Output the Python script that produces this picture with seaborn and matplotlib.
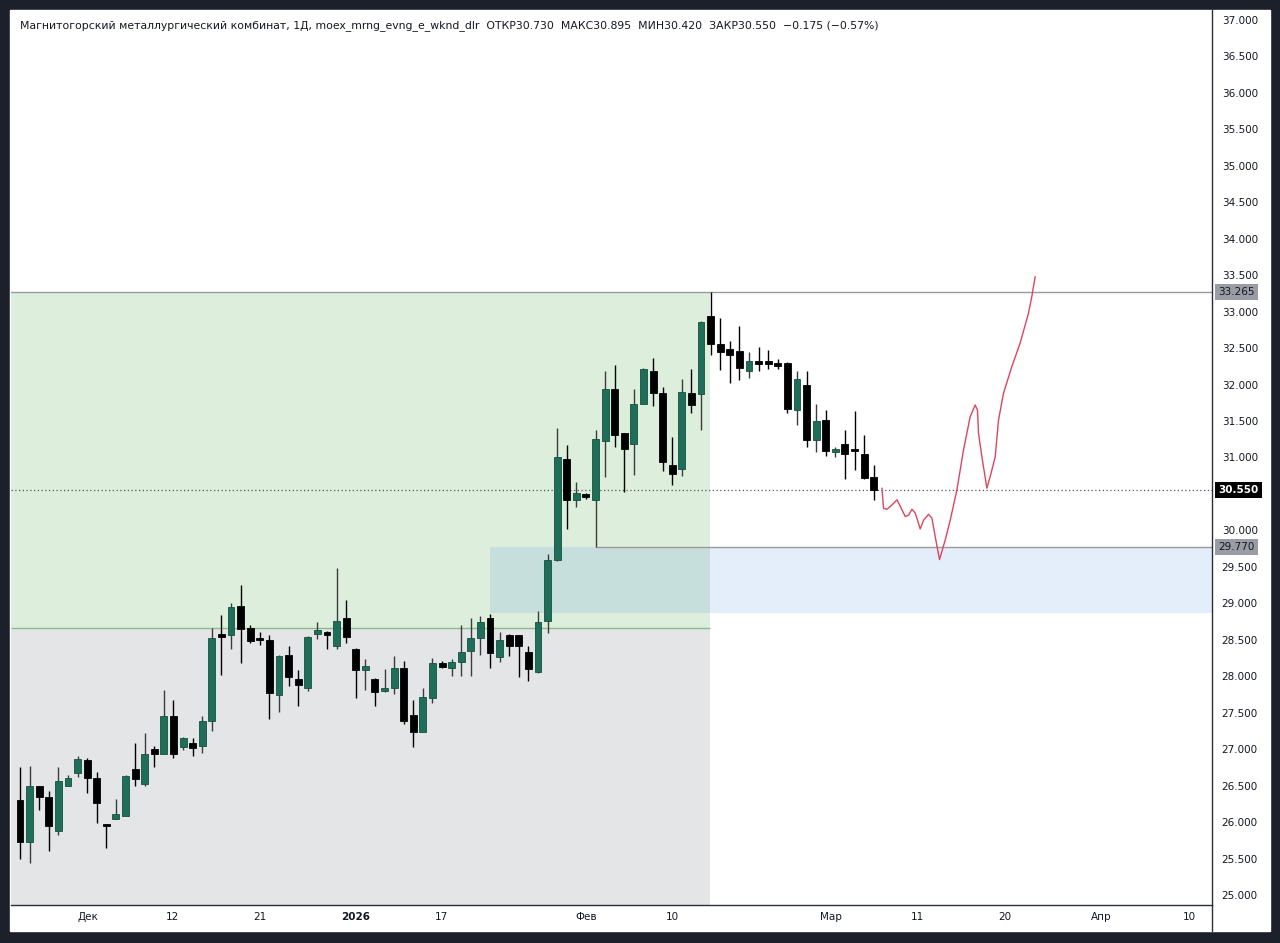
import matplotlib.pyplot as plt
import numpy as np
import seaborn as sns
from matplotlib.patches import Rectangle
from matplotlib.lines import Line2D

# daily candles, index 0..89
opens = [26.30, 25.73, 26.49, 26.34, 25.88, 26.50, 26.67, 26.85, 26.61, 25.97,
         26.04, 26.08, 26.73, 26.52, 27.00, 26.94, 27.45, 27.03, 27.09, 27.05,
         27.38, 28.58, 28.56, 28.96, 28.66, 28.52, 28.50, 27.74, 28.29, 27.96,
         27.84, 28.58, 28.61, 28.41, 28.80, 28.38, 28.08, 27.96, 27.80, 27.84,
         28.12, 27.47, 27.24, 27.70, 28.18, 28.12, 28.19, 28.34, 28.52, 28.80,
         28.27, 28.57, 28.56, 28.33, 28.06, 28.76, 29.60, 30.98, 30.42, 30.50,
         30.42, 31.23, 31.94, 31.33, 31.19, 31.73, 32.19, 31.89, 30.90, 30.84,
         31.88, 31.87, 32.94, 32.56, 32.49, 32.46, 32.18, 32.32, 32.33, 32.30,
         32.29, 31.65, 31.99, 31.24, 31.51, 31.08, 31.18, 31.10, 31.05, 30.73]
highs = [26.76, 26.77, 26.50, 26.43, 26.76, 26.65, 26.90, 26.88, 26.69, 25.98,
         26.31, 26.64, 27.08, 27.22, 27.04, 27.81, 27.67, 27.17, 27.15, 27.46,
         28.66, 28.84, 29.00, 29.25, 28.70, 28.61, 28.57, 28.29, 28.42, 28.09,
         28.55, 28.75, 28.62, 29.48, 29.04, 28.39, 28.23, 27.97, 28.10, 28.28,
         28.21, 27.68, 27.84, 28.25, 28.21, 28.23, 28.70, 28.80, 28.83, 28.86,
         28.61, 28.58, 28.57, 28.42, 28.89, 29.68, 31.41, 31.17, 30.67, 30.51,
         31.38, 32.18, 32.27, 31.34, 31.94, 32.23, 32.37, 31.97, 31.28, 32.07,
         32.22, 32.87, 33.265, 32.91, 32.60, 32.81, 32.44, 32.52, 32.47, 32.35,
         32.31, 32.19, 32.19, 31.73, 31.65, 31.15, 31.38, 31.64, 31.31, 30.895]
lows = [25.49, 25.44, 26.16, 25.60, 25.82, 26.50, 26.62, 26.40, 25.99, 25.65,
        26.04, 26.08, 26.50, 26.50, 26.75, 26.94, 26.88, 26.99, 26.91, 26.95,
        27.25, 28.02, 28.38, 28.18, 28.46, 28.43, 27.42, 27.51, 27.86, 27.59,
        27.80, 28.51, 28.37, 28.37, 28.46, 27.70, 27.81, 27.59, 27.78, 27.76,
        27.35, 27.03, 27.24, 27.63, 28.12, 28.00, 28.00, 28.00, 28.29, 28.11,
        28.20, 28.28, 27.99, 27.93, 28.05, 28.59, 29.58, 30.02, 30.32, 30.43,
        29.77, 30.73, 31.14, 30.53, 30.76, 31.73, 31.70, 30.81, 30.62, 30.74,
        31.61, 31.38, 32.41, 32.20, 32.02, 32.06, 32.09, 32.18, 32.21, 32.22,
        31.61, 31.45, 31.14, 31.07, 31.02, 31.00, 30.70, 30.83, 30.70, 30.42]
closes = [25.73, 26.49, 26.34, 25.94, 26.57, 26.60, 26.87, 26.60, 26.26, 25.95,
          26.11, 26.63, 26.59, 26.93, 26.94, 27.45, 26.93, 27.15, 27.01, 27.38,
          28.53, 28.54, 28.95, 28.65, 28.49, 28.50, 27.77, 28.28, 27.99, 27.88,
          28.54, 28.63, 28.57, 28.76, 28.54, 28.08, 28.14, 27.78, 27.84, 28.12,
          27.39, 27.24, 27.71, 28.18, 28.13, 28.20, 28.33, 28.53, 28.74, 28.32,
          28.50, 28.42, 28.42, 28.10, 28.74, 29.60, 31.01, 30.42, 30.51, 30.46,
          31.26, 31.94, 31.31, 31.12, 31.74, 32.22, 31.88, 30.94, 30.78, 31.90,
          31.72, 32.86, 32.56, 32.44, 32.41, 32.23, 32.33, 32.28, 32.28, 32.25,
          31.67, 32.08, 31.24, 31.50, 31.09, 31.10, 31.05, 31.09, 30.72, 30.55]

# hand drawn forecast path (bar index, price)
path_x = [89.86, 90.03, 90.39, 90.91, 91.43, 91.77, 92.29, 92.64, 92.99, 93.33,
          93.85, 94.20, 94.72, 95.07, 95.42, 95.86, 96.46, 96.98, 97.68, 98.36,
          99.06, 99.58, 99.82, 99.93, 100.28, 100.80, 101.15, 101.67, 102.01,
          102.53, 103.41, 104.27, 105.14, 105.49, 105.83]
path_y = [30.58, 30.30, 30.29, 30.35, 30.42, 30.33, 30.19, 30.21, 30.29, 30.24,
          30.02, 30.14, 30.22, 30.17, 29.91, 29.60, 29.87, 30.14, 30.56, 31.10,
          31.56, 31.72, 31.65, 31.33, 31.01, 30.58, 30.74, 31.01, 31.51,
          31.88, 32.25, 32.57, 32.98, 33.21, 33.48]

tick_pos = [7.08, 15.94, 25.0, 35.0, 43.96, 59.06, 68.02, 84.58, 93.54, 102.7, 112.7, 121.9]
tick_lbl = ["Дек", "12", "21", "2026", "17", "Фев", "10", "Мар", "11", "20", "Апр", "10"]

high_level = 33.265
zone_split = 28.66
last_price = 30.55
low_level = 29.77
blue_bottom = 28.87
zone_end = 71.9
blue_start = 48.96
low_start = 60

sns.set_theme(style="white")
plt.rcParams['font.family'] = ['DejaVu Sans']

fig = plt.figure(figsize=(12.8, 9.43), dpi=100, facecolor='#1c202b')
fig.patches.append(Rectangle((10 / 1280, 12 / 943), 1260 / 1280, 921 / 943,
                             transform=fig.transFigure, color='white', zorder=-5))
ax = fig.add_axes([11 / 1280, 38 / 943, 1201 / 1280, 895 / 943])
ax.set_zorder(2)
ax.set_facecolor('white')

xmin, xmax = -0.94, 124.27
ymin, ymax = 24.863, 37.137

# zones
ax.fill_between([xmin, zone_end], zone_split, high_level, color='#ddefdc', lw=0, zorder=0)
ax.fill_between([xmin, zone_end], ymin, zone_split, color='#e4e5e7', lw=0, zorder=0)
ax.fill_between([blue_start, xmax], blue_bottom, low_level, color=(70 / 255, 130 / 255, 220 / 255),
                alpha=0.14, lw=0, zorder=0.5)
ax.hlines(zone_split, xmin, zone_end, color='#8cbc8c', lw=1, zorder=1)
ax.axhline(high_level, color='#9a9a9a', lw=1, zorder=1)
ax.hlines(low_level, low_start, xmax, color='#9a9a9a', lw=1, zorder=1)
ax.axhline(last_price, color='#555555', lw=0.9, ls=(0, (1, 2)), zorder=1)

# candles
idx = np.arange(len(opens))
o = np.array(opens)
c = np.array(closes)
up = c >= o
body_col = np.where(up, '#1e6e5a', '#000000')
edge_col = np.where(up, '#16503f', '#000000')
wick_col = np.where(up, '#3c3c3c', '#000000')
ax.vlines(idx, lows, highs, colors=wick_col, lw=1, zorder=2)
bottoms = np.minimum(o, c)
heights = np.maximum(np.abs(c - o), 0.03)
ax.bar(idx, heights, bottom=bottoms, width=0.72, color=body_col,
       edgecolor=edge_col, linewidth=0.6, zorder=3)

# forecast path
sns.lineplot(x=path_x, y=path_y, sort=False, estimator=None, color='#dc465c', lw=1.0, ax=ax, zorder=4)

ax.set_xlim(xmin, xmax)
ax.set_ylim(ymin, ymax)

# price axis
yt = [v for v in np.arange(25, 37.01, 0.5) if abs(v - 30.5) > 0.01]
ax.yaxis.tick_right()
ax.set_yticks(yt)
ax.set_yticklabels([f"{v:.3f}" for v in yt], fontsize=7.5, color='#131722')
ax.tick_params(axis='y', length=0, pad=7)
ax.set_xticks(tick_pos)
ax.set_xticklabels(tick_lbl, fontsize=7.5, color='#131722')
for t in ax.get_xticklabels():
    if t.get_text() == "2026":
        t.set_fontweight('bold')
ax.tick_params(axis='x', length=0, pad=5)
ax.set_xlabel('')
ax.set_ylabel('')

for s in ['top', 'left']:
    ax.spines[s].set_visible(False)
for s in ['right', 'bottom']:
    ax.spines[s].set_color('#2a2e39')
    ax.spines[s].set_linewidth(1)
fig.add_artist(Line2D([1212 / 1280, 1212 / 1280], [12 / 943, 38 / 943], color='#2a2e39', lw=1,
                      transform=fig.transFigure))

# price labels
tr = ax.get_yaxis_transform()
for val, bg, fg in [(high_level, '#9a9ca3', '#131722'), (last_price, '#000000', 'white'),
                    (low_level, '#9a9ca3', '#131722')]:
    ax.text(1.0055, val, f"{val:.3f}", transform=tr, fontsize=7.5, color=fg, va='center', ha='left',
            fontweight='bold' if bg == '#000000' else 'normal',
            bbox=dict(boxstyle='square,pad=0.3', fc=bg, ec='none'), clip_on=False)

fig.text(20 / 1280, 1 - 26 / 943,
         "Магнитогорский металлургический комбинат, 1Д, moex_mrng_evng_e_wknd_dlr  ОТКР30.730  "
         "МАКС30.895  МИН30.420  ЗАКР30.550  −0.175 (−0.57%)",
         fontsize=7.8, color='#131722', va='center', ha='left', zorder=10)

fig.savefig('out.png', dpi=100, facecolor=fig.get_facecolor())
